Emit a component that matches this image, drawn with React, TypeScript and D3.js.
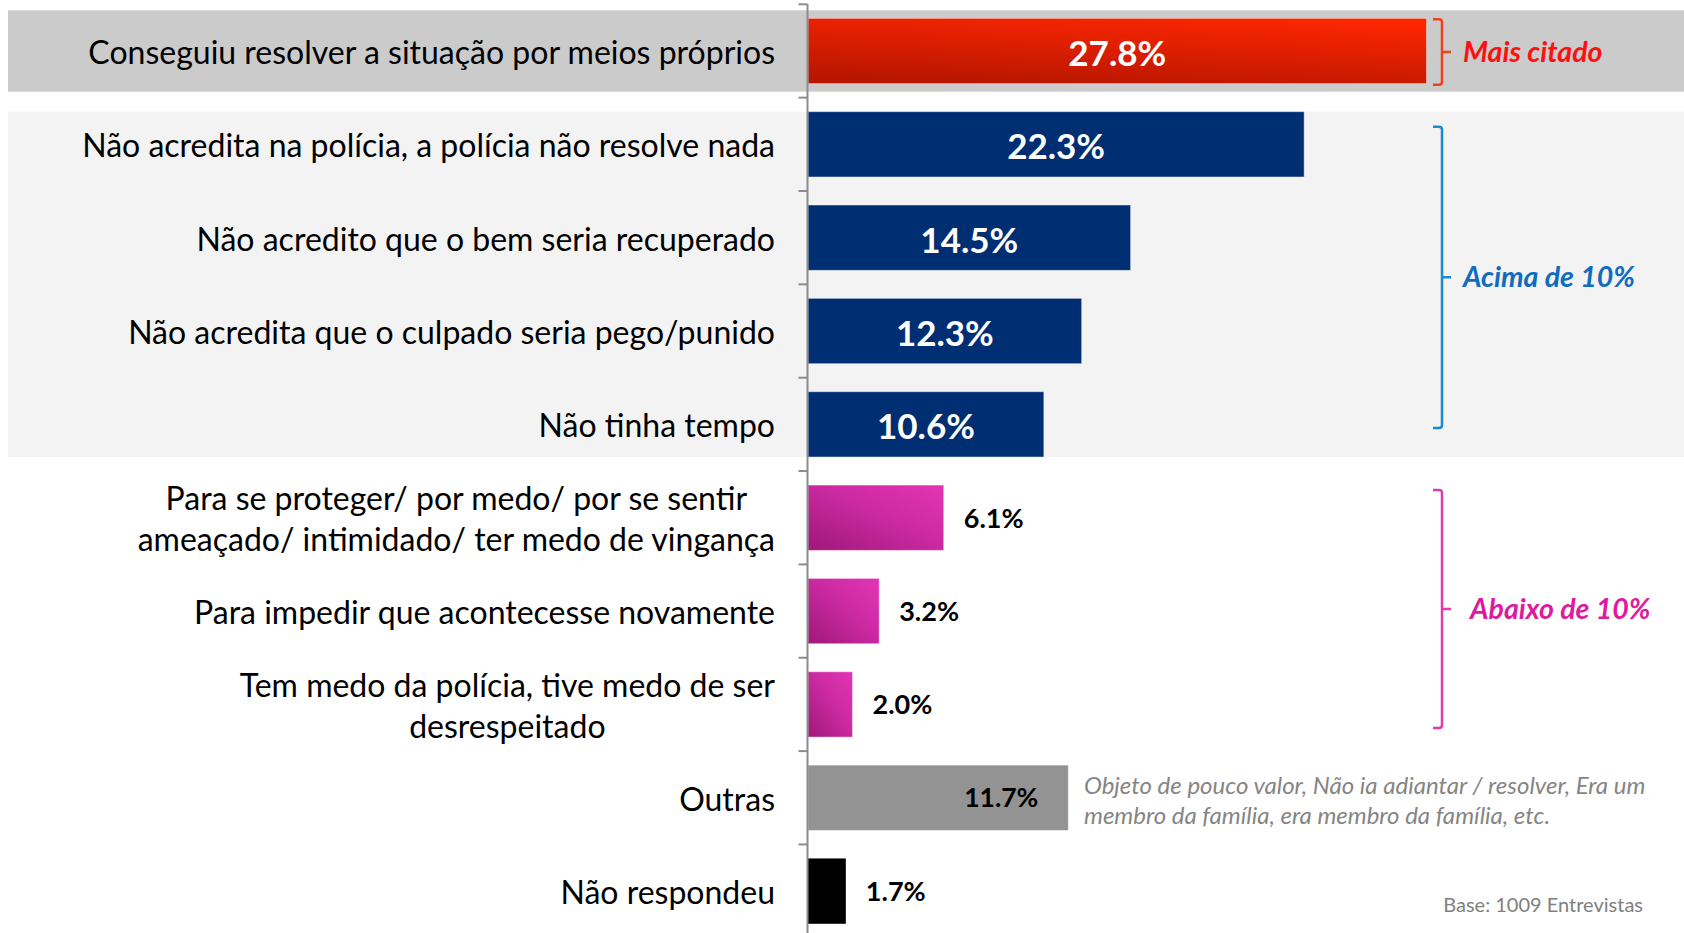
import React, { useEffect, useRef } from "react";
import * as d3 from "d3";

const categories: string[] = [
  "Conseguiu resolver a situação por meios próprios",
  "Não acredita na polícia, a polícia não resolve nada",
  "Não acredito que o bem seria recuperado",
  "Não acredita que o culpado seria pego/punido",
  "Não tinha tempo",
  "Para se proteger/ por medo/ por se sentir\nameaçado/ intimidado/ ter medo de vingança",
  "Para impedir que acontecesse novamente",
  "Tem medo da polícia, tive medo de ser\ndesrespeitado",
  "Outras",
  "Não respondeu",
];
const values: number[] = [27.8, 22.3, 14.5, 12.3, 10.6, 6.1, 3.2, 2.0, 11.7, 1.7];
const groups: string[] = ["top", "above", "above", "above", "above", "below", "below", "below", "other", "none"];
const valueLabels: string[] = ["27.8%", "22.3%", "14.5%", "12.3%", "10.6%", "6.1%", "3.2%", "2.0%", "11.7%", "1.7%"];

const bracketLabels: string[] = ["Mais citado", "Acima de 10%", "Abaixo de 10%"];
const noteLines: string[] = [
  "Objeto de pouco valor, Não ia adiantar / resolver, Era um",
  "membro da família, era membro da família, etc.",
];
const baseText = "Base: 1009 Entrevistas";

const W = 1684;
const H = 933;
const FONT = "Lato, 'Open Sans', sans-serif";

export default function App() {
  const ref = useRef<SVGSVGElement | null>(null);

  useEffect(() => {
    document.body.style.margin = "0";
    const svg = d3.select(ref.current);
    svg.selectAll("*").remove();

    const x = d3.scaleLinear().domain([0, 28]).range([808, 808 + 28 * 22.25]);
    const idx = categories.map((_, i) => i);
    const y = d3
      .scaleBand<number>()
      .domain(idx)
      .range([4.3, 4.3 + 93.35 * 10])
      .paddingInner(0.3)
      .paddingOuter(0.15);
    const bw = y.bandwidth();
    const top = (i: number) => y(i) as number;
    const mid = (i: number) => top(i) + bw / 2;

    const defs = svg.append("defs");
    const red = defs.append("linearGradient").attr("id", "gRed").attr("x1", 0.3).attr("y1", 1).attr("x2", 0.7).attr("y2", 0);
    red.append("stop").attr("offset", "0%").attr("stop-color", "#b81600");
    red.append("stop").attr("offset", "100%").attr("stop-color", "#fb2600");
    const pink = defs.append("linearGradient").attr("id", "gPink").attr("x1", 0).attr("y1", 1).attr("x2", 1).attr("y2", 0);
    pink.append("stop").attr("offset", "0%").attr("stop-color", "#9e1878");
    pink.append("stop").attr("offset", "55%").attr("stop-color", "#cc2aa2");
    pink.append("stop").attr("offset", "100%").attr("stop-color", "#e334b4");

    // background bands
    svg.append("rect").attr("x", 8).attr("y", top(0) - 8).attr("width", W - 8).attr("height", bw + 16).attr("fill", "#cbcbcb");
    svg
      .append("rect")
      .attr("x", 8)
      .attr("y", top(1))
      .attr("width", W - 8)
      .attr("height", top(4) + bw - top(1))
      .attr("fill", "#f3f3f3");

    const fillFor = (g: string) =>
      g === "top" ? "url(#gRed)" : g === "above" ? "#002e73" : g === "below" ? "url(#gPink)" : g === "other" ? "#939393" : "#000";

    // bars
    svg
      .selectAll("rect.bar")
      .data(idx)
      .join("rect")
      .attr("class", "bar")
      .attr("x", x(0))
      .attr("y", (i) => top(i))
      .attr("width", (i) => x(values[i]) - x(0))
      .attr("height", bw)
      .attr("fill", (i) => fillFor(groups[i]))
      .attr("stroke", (i) => (groups[i] === "none" ? "none" : "rgba(255,255,255,0.45)"))
      .attr("stroke-width", 1);

    // axis
    const axisX = x(0) - 0.5;
    svg.append("line").attr("x1", axisX).attr("x2", axisX).attr("y1", 4).attr("y2", H).attr("stroke", "#8c8c8c").attr("stroke-width", 2);
    svg
      .selectAll("line.tick")
      .data(d3.range(0, 11))
      .join("line")
      .attr("class", "tick")
      .attr("x1", axisX - 9)
      .attr("x2", axisX)
      .attr("y1", (k) => 4.3 + k * y.step())
      .attr("y2", (k) => 4.3 + k * y.step())
      .attr("stroke", "#8c8c8c")
      .attr("stroke-width", 2);

    // category labels
    const labelRight = 775;
    const labelFont = 32;
    idx.forEach((i) => {
      const lines = categories[i].split("\n");
      const g = svg.append("g");
      const texts = lines.map((ln, k) =>
        g
          .append("text")
          .text(ln)
          .attr("font-family", FONT)
          .attr("font-size", labelFont)
          .attr("fill", "#000")
          .attr("y", mid(i) + 13 + (k - (lines.length - 1) / 2) * 41)
      );
      const widths = texts.map((t) => (t.node() as SVGTextElement).getComputedTextLength());
      const maxW = Math.max(...widths);
      const cx = labelRight - maxW / 2;
      texts.forEach((t) => t.attr("x", cx).attr("text-anchor", "middle"));
    });

    // value labels
    idx.forEach((i) => {
      const g = groups[i];
      const t = svg.append("text").text(valueLabels[i]).attr("font-family", FONT).attr("font-weight", 700);
      if (g === "top" || g === "above") {
        t.attr("x", (x(0) + x(values[i])) / 2)
          .attr("y", mid(i) + 15)
          .attr("text-anchor", "middle")
          .attr("font-size", 35)
          .attr("fill", "#fff");
      } else if (g === "other") {
        t.attr("x", x(values[i]) - 30)
          .attr("y", mid(i) + 9.5)
          .attr("text-anchor", "end")
          .attr("font-size", 26.5)
          .attr("fill", "#000");
      } else {
        t.attr("x", x(values[i]) + 20)
          .attr("y", mid(i) + 10)
          .attr("text-anchor", "start")
          .attr("font-size", 27)
          .attr("fill", "#000");
      }
    });

    // brackets
    const brackets = [
      { y0: top(0) + 1, y1: top(0) + bw + 1, color: "#f0401c", text: "#ff1010", label: bracketLabels[0], tx: 1463 },
      { y0: top(1) + 15, y1: top(4) + bw - 29, color: "#1a8ad8", text: "#0f6cc0", label: bracketLabels[1], tx: 1463 },
      { y0: top(5) + 5, y1: top(7) + bw - 9, color: "#e03cb0", text: "#dd1aa0", label: bracketLabels[2], tx: 1470 },
    ];
    const bx = 1442;
    brackets.forEach((b) => {
      const m = (b.y0 + b.y1) / 2;
      const p = d3.path();
      p.moveTo(bx - 9, b.y0);
      p.lineTo(bx - 3, b.y0);
      p.quadraticCurveTo(bx, b.y0, bx, b.y0 + 3);
      p.lineTo(bx, b.y1 - 3);
      p.quadraticCurveTo(bx, b.y1, bx - 3, b.y1);
      p.lineTo(bx - 9, b.y1);
      p.moveTo(bx, m);
      p.lineTo(bx + 9, m);
      svg.append("path").attr("d", p.toString()).attr("fill", "none").attr("stroke", b.color).attr("stroke-width", 2.5);
      svg
        .append("text")
        .text(b.label)
        .attr("x", b.tx)
        .attr("y", m + 10)
        .attr("font-family", FONT)
        .attr("font-size", 28.5)
        .attr("font-style", "italic")
        .attr("font-weight", 700)
        .attr("fill", b.text);
    });

    // note
    noteLines.forEach((ln, k) => {
      svg
        .append("text")
        .text(ln)
        .attr("x", 1084)
        .attr("y", mid(8) - 4 + k * 30)
        .attr("font-family", FONT)
        .attr("font-size", 24)
        .attr("font-style", "italic")
        .attr("fill", "#858585");
    });

    svg
      .append("text")
      .text(baseText)
      .attr("x", 1643)
      .attr("y", 911.7)
      .attr("text-anchor", "end")
      .attr("font-family", FONT)
      .attr("font-size", 20)
      .attr("fill", "#808080");
  }, []);

  return <svg ref={ref} width={W} height={H} style={{ display: "block", background: "#fff" }} />;
}
